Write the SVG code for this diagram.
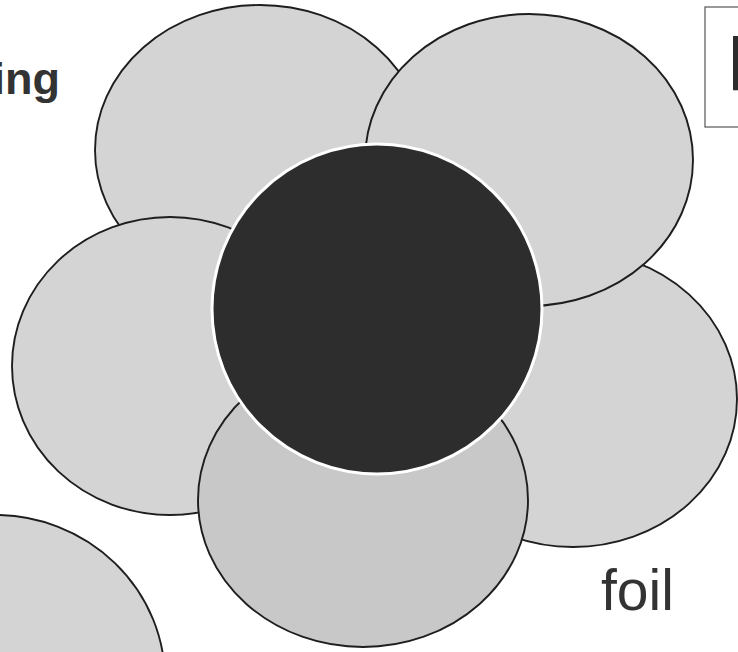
<svg xmlns="http://www.w3.org/2000/svg" width="738" height="652" viewBox="0 0 738 652">
  <style>
    .petal { fill: #d4d4d4; stroke: #1e1e1e; stroke-width: 1.9; }
    .petal-dark { fill: #c8c8c8; stroke: #1e1e1e; stroke-width: 1.9; }
    .center { fill: #2d2d2d; stroke: #ffffff; stroke-width: 3; }
    .label { font-family: "Liberation Sans", Arial, sans-serif; fill: #333333; }
  </style>
  <rect x="0" y="0" width="738" height="652" fill="#ffffff"/>
  <g id="petal-bottom-left-partial">
    <ellipse class="petal" cx="-5" cy="680" rx="170" ry="165"/>
  </g>
  <g id="petal-top-left">
    <ellipse class="petal" cx="260" cy="150" rx="165" ry="145"/>
  </g>
  <g id="petal-left">
    <ellipse class="petal" cx="170" cy="366" rx="158" ry="149"/>
  </g>
  <g id="petal-right">
    <ellipse class="petal" cx="573" cy="399" rx="164" ry="148"/>
  </g>
  <g id="petal-top-right">
    <ellipse class="petal" cx="529" cy="160" rx="164" ry="146"/>
  </g>
  <g id="petal-bottom">
    <ellipse class="petal-dark" cx="363" cy="500" rx="165" ry="147"/>
  </g>
  <g id="center">
    <circle class="center" cx="377" cy="309" r="165"/>
  </g>
  <g id="label-ing">
    <text class="label" x="60" y="94" font-size="45" font-weight="bold" text-anchor="end">ing</text>
  </g>
  <g id="label-foil">
    <text class="label" x="601" y="610" font-size="57">foil</text>
  </g>
  <g id="box-top-right">
    <rect x="705" y="7" width="50" height="120" fill="#ffffff" stroke="#555555" stroke-width="1.2"/>
    <text x="727" y="90" font-size="71" font-weight="bold" font-family="'DejaVu Sans', sans-serif" fill="#2d2d2d">l</text>
  </g>
</svg>
